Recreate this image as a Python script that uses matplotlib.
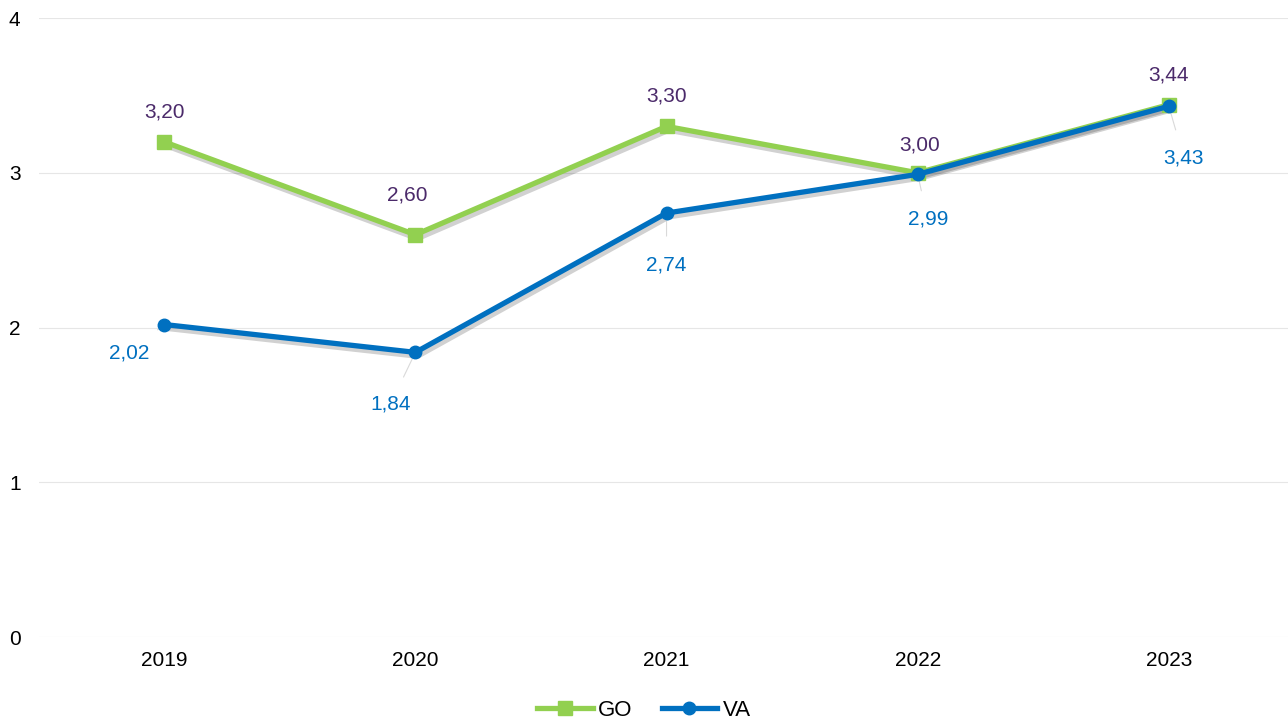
import matplotlib.pyplot as plt
import matplotlib.transforms as mtransforms

plt.rcParams['font.family'] = ['Liberation Sans', 'DejaVu Sans']

years = ['2019', '2020', '2021', '2022', '2023']
go = [3.20, 2.60, 3.30, 3.00, 3.44]
va = [2.02, 1.84, 2.74, 2.99, 3.43]

# label offsets in pixels (dx, dy)
go_off = [(0, 30), (-8, 40), (0, 30), (2, 28), (0, 30)]
va_off = [(-35, -28), (-25, -52), (0, -52), (10, -45), (15, -52)]

green = '#92D050'
blue = '#0070C0'
purple = '#4B2A6A'

fig = plt.figure(figsize=(12.88, 7.2), dpi=100)
ax = fig.add_axes([0.03, 0.115, 0.975, 0.86])

x = list(range(len(years)))

# soft drop shadow under the lines
sh = mtransforms.offset_copy(ax.transData, fig=fig, x=2, y=-3, units='dots')
for vals in (go, va):
    ax.plot(x, vals, color='black', lw=5, alpha=0.18, transform=sh, zorder=2,
            solid_capstyle='round')

ax.plot(x, go, color=green, lw=3.8, marker='s', ms=10, label='GO', zorder=3)
ax.plot(x, va, color=blue, lw=3.8, marker='o', ms=9, label='VA', zorder=4)

def fmt(v):
    return f'{v:.2f}'.replace('.', ',')

for i, v in enumerate(go):
    ax.annotate(fmt(v), (i, v), xytext=go_off[i], textcoords='offset pixels',
                ha='center', va='center', fontsize=15, color=purple)
for i, v in enumerate(va):
    dx, dy = va_off[i]
    ax.annotate(fmt(v), (i, v), xytext=(dx, dy), textcoords='offset pixels',
                ha='center', va='center', fontsize=15, color=blue,
                arrowprops=dict(arrowstyle='-', color='#d9d9d9', lw=0.8, shrinkA=12, shrinkB=3))

ax.set_xlim(-0.5, 4.5)
ax.set_ylim(0, 4)
ax.set_yticks([0, 1, 2, 3, 4])
ax.set_xticks(x)
ax.set_xticklabels(years)
ax.tick_params(length=0, labelsize=15, pad=10)
ax.tick_params(axis='y', pad=13)
ax.grid(axis='y', color='#e6e6e6', lw=0.8)
ax.set_axisbelow(True)
for s in ax.spines.values():
    s.set_visible(False)

ax.legend(loc='center', bbox_to_anchor=(0.482, -0.118), ncol=2, frameon=False,
          fontsize=16, handlelength=2.5, handletextpad=0.25, columnspacing=1.3)

fig.savefig('out.png', dpi=100)
